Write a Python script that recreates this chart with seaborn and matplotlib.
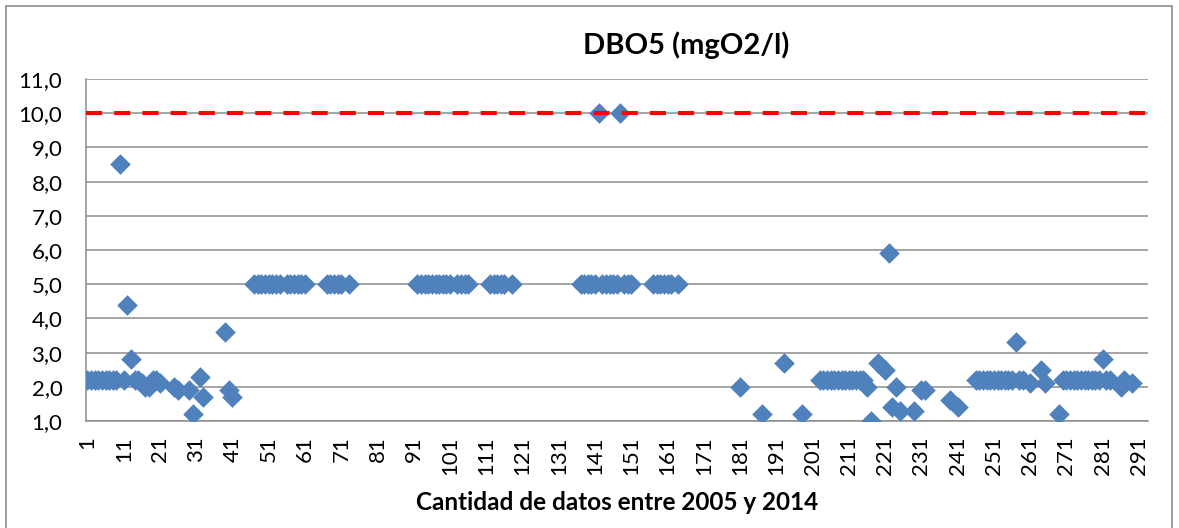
import numpy as np
import pandas as pd
import matplotlib
matplotlib.use("Agg")
import matplotlib.pyplot as plt
from matplotlib.patches import Rectangle
from matplotlib.ticker import FuncFormatter, FixedLocator
import seaborn as sns

# DBO5 readings (mgO2/l), one entry per sample number; None = no value recorded
dbo5 = [
    2.2, 2.2, 2.2, 2.2, 2.2, 2.2, 2.2, 2.2, 2.2, 8.5,      # 1-10
    2.2, 4.4, 2.8, 2.2, 2.2, 2.1, 2.0, 2.0, 2.2, 2.2,      # 11-20
    2.1, None, None, None, 2.0, 1.9, None, None, 1.9, 1.2,  # 21-30
    None, 2.3, 1.7, None, None, None, None, None, 3.6, 1.9,  # 31-40
    1.7, None, None, None, None, None, 5.0, 5.0, 5.0, 5.0,  # 41-50
    5.0, 5.0, 5.0, 5.0, None, 5.0, 5.0, 5.0, 5.0, 5.0,     # 51-60
    5.0, None, None, None, None, None, 5.0, 5.0, 5.0, 5.0,  # 61-70
    5.0, None, 5.0, None, None, None, None, None, None, None,  # 71-80
    None, None, None, None, None, None, None, None, None, None,  # 81-90
    None, 5.0, 5.0, 5.0, 5.0, 5.0, 5.0, 5.0, 5.0, 5.0,     # 91-100
    5.0, None, 5.0, 5.0, 5.0, 5.0, None, None, None, None,  # 101-110
    None, 5.0, 5.0, 5.0, 5.0, 5.0, None, 5.0, None, None,   # 111-120
    None, None, None, None, None, None, None, None, None, None,  # 121-130
    None, None, None, None, None, None, 5.0, 5.0, 5.0, 5.0,  # 131-140
    5.0, 10.0, 5.0, 5.0, 5.0, 5.0, 5.0, 10.0, 5.0, 5.0,    # 141-150
    5.0, None, None, None, None, None, 5.0, 5.0, 5.0, 5.0,  # 151-160
    5.0, 5.0, None, 5.0, None, None, None, None, None, None,  # 161-170
    None, None, None, None, None, None, None, None, None, None,  # 171-180
    2.0, None, None, None, None, None, 1.2, None, None, None,  # 181-190
    None, None, 2.7, None, None, None, None, 1.2, None, None,  # 191-200
    None, None, 2.2, 2.2, 2.2, 2.2, 2.2, 2.2, 2.2, 2.2,    # 201-210
    2.2, 2.2, 2.2, 2.2, 2.2, 2.0, 1.0, None, 2.7, None,    # 211-220
    2.5, 5.9, 1.4, 2.0, 1.3, None, None, None, 1.3, None,  # 221-230
    1.9, 1.9, None, None, None, None, None, None, 1.6, None,  # 231-240
    1.4, None, None, None, None, 2.2, 2.2, 2.2, 2.2, 2.2,  # 241-250
    2.2, 2.2, 2.2, 2.2, 2.2, 2.2, 3.3, 2.2, 2.2, None,     # 251-260
    2.1, None, None, 2.5, 2.1, None, None, None, 1.2, 2.2,  # 261-270
    2.2, 2.2, 2.2, 2.2, 2.2, 2.2, 2.2, 2.2, 2.2, 2.2,      # 271-280
    2.8, 2.2, 2.2, None, None, 2.0, 2.2, None, 2.1, None,  # 281-290
    None, None, None,                                      # 291-293
]

# Guideline value (mgO2/l)
limite = 10.0

x_ticks = [1, 11, 21, 31, 41, 51, 61, 71, 81, 91, 101, 111, 121, 131, 141,
           151, 161, 171, 181, 191, 201, 211, 221, 231, 241, 251, 261, 271,
           281, 291]
y_ticks = [1.0, 2.0, 3.0, 4.0, 5.0, 6.0, 7.0, 8.0, 9.0, 10.0, 11.0]

titulo = "DBO5 (mgO2/l)"
eje_x = "Cantidad de datos entre 2005 y 2014"

sns.set_theme(style="white")
plt.rcParams["font.family"] = ["Lato", "DejaVu Sans"]

n = len(dbo5)
df = pd.DataFrame({"muestra": np.arange(1, n + 1),
                   "dbo5": pd.Series(dbo5, dtype=float)}).dropna()

W, H = 1179, 528
fig = plt.figure(figsize=(W / 100, H / 100), dpi=100)
fig.patch.set_facecolor("white")

# chart-area frame
fig.add_artist(Rectangle((6 / W, -0.05), 1166 / W, 1.05 - 6 / H,
                         transform=fig.transFigure, fill=False,
                         edgecolor="#8C8C8C", lw=1.2))

ax = fig.add_axes([86 / W, 1 - 421 / H, (1148 - 86) / W, (421 - 79) / H])
ax.set_facecolor("white")

grid_col = "#8C8C8C"
sns.scatterplot(data=df, x="muestra", y="dbo5", marker="D", s=110,
                color="#4F81BD", linewidth=0, ax=ax, zorder=3, legend=False)
ax.axhline(limite, color="#FF0000", lw=2.9, dashes=(4, 3), zorder=4)

ax.set_xlim(0.6, n + 0.5)
ax.set_ylim(y_ticks[0], y_ticks[-1])
ax.yaxis.set_major_locator(FixedLocator(y_ticks))
ax.yaxis.set_major_formatter(FuncFormatter(lambda v, p: f"{v:.1f}".replace(".", ",")))
ax.set_xticks(x_ticks)
ax.set_xticklabels([str(t) for t in x_ticks])

ax.yaxis.grid(True, color=grid_col, lw=1.1)
ax.xaxis.grid(False)
ax.set_axisbelow(True)
for side in ("top", "right"):
    ax.spines[side].set_visible(False)
for side in ("left", "bottom"):
    ax.spines[side].set_color(grid_col)
    ax.spines[side].set_linewidth(1.1)

ax.tick_params(axis="y", length=0, pad=17, labelsize=16, labelcolor="black")
ax.tick_params(axis="x", length=0, pad=11, labelsize=16, labelcolor="black",
               labelrotation=90)
ax.set_xlabel("")
ax.set_ylabel("")

fig.text(686 / W, 1 - 45 / H, titulo, fontsize=21, fontweight="bold",
         ha="center", va="center", color="black")
fig.text(617 / W, 1 - 503 / H, eje_x, fontsize=17.5, fontweight="bold",
         ha="center", va="center", color="black")

fig.savefig("out.png", dpi=100)
